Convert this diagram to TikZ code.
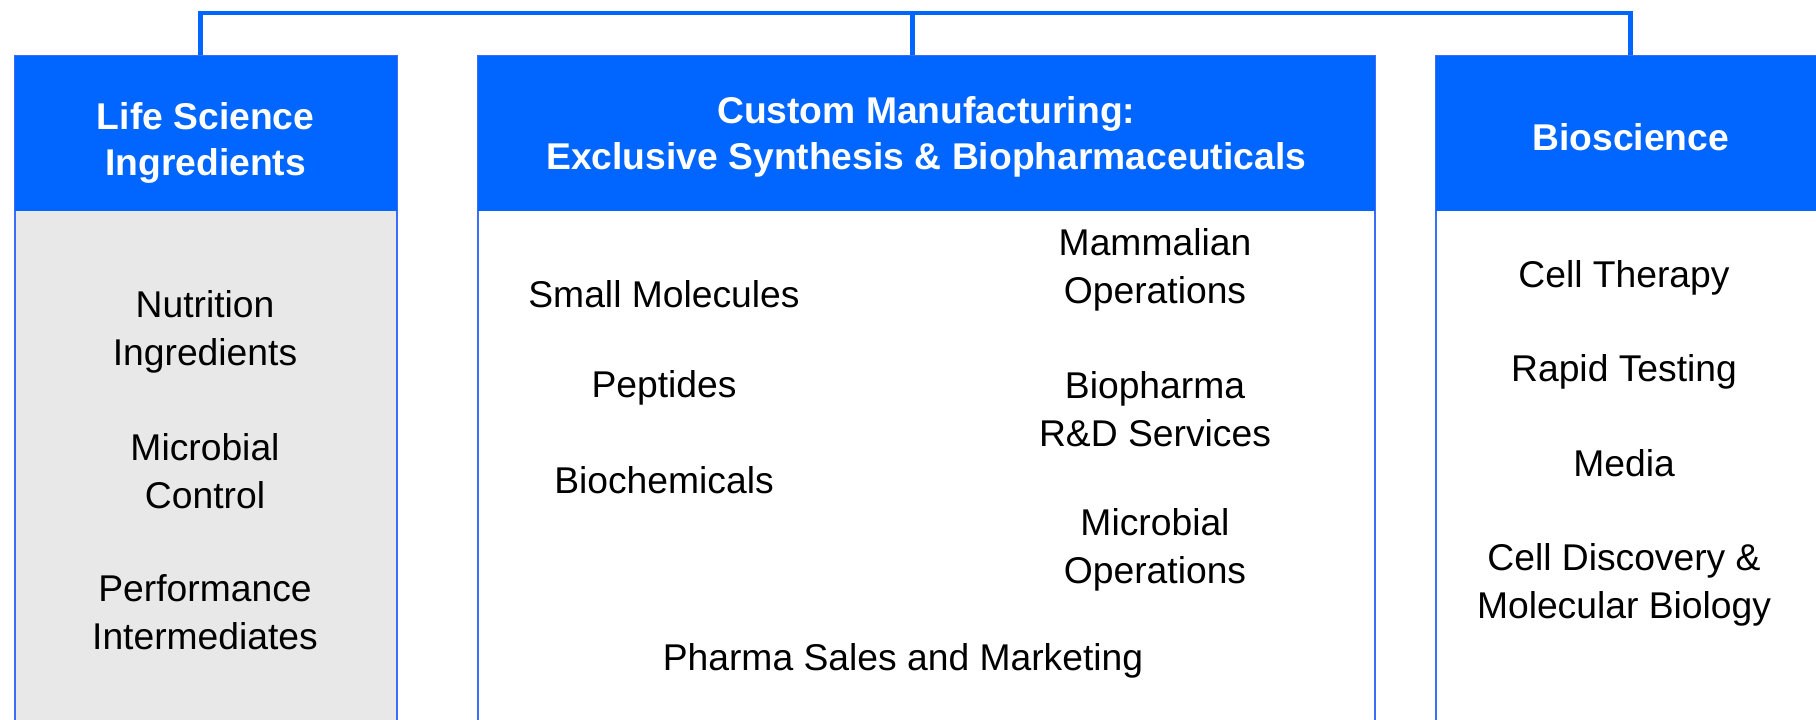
\documentclass[tikz,border=0pt]{standalone}
\usepackage{fontspec}
\setmainfont{Liberation Sans}
\usepackage{xcolor}
\usetikzlibrary{positioning}

\definecolor{segblue}{HTML}{0066FF}
\definecolor{rimblue}{HTML}{3A6DF8}
\definecolor{panelgray}{HTML}{E8E8E8}

\tikzset{
  panel/.style={draw=rimblue, line width=0.7pt, inner sep=0pt, minimum height=7cm, anchor=north west},
  header/.style={fill=segblue, inner sep=0pt, minimum height=1.55cm, anchor=north west},
  title/.style={text=white, align=center, font=\fontsize{10.6}{13}\selectfont\bfseries},
  item/.style={align=center, font=\fontsize{10.6}{13.5}\selectfont},
  bus/.style={draw=segblue, line width=1.4pt},
}

\begin{document}
\begin{tikzpicture}
    \useasboundingbox (0,0) rectangle (18.16,7.2);
    \clip (0,0) rectangle (18.16,7.2);

    % columns (body first, header on top)
    \node[panel, fill=panelgray, minimum width=3.82cm] (lsibox) at (0.14,6.65) {};
    \node[header, minimum width=3.82cm] (lsi) at (lsibox.north west) {};
    \node[title] (lsititle) at ([yshift=-0.1cm]lsi.center) {Life Science\\Ingredients};

    \node[panel, fill=white, minimum width=8.97cm] (cmfbox) at (4.77,6.65) {};
    \node[header, minimum width=8.97cm] (cmf) at (cmfbox.north west) {};
    \node[title] (cmftitle) at ([yshift=-0.04cm]cmf.center) {Custom Manufacturing:\\Exclusive Synthesis \& Biopharmaceuticals};

    \node[panel, fill=white, minimum width=3.9cm] (biobox) at (14.35,6.65) {};
    \node[header, minimum width=3.9cm] (bio) at (biobox.north west) {};
    \node[title] (biotitle) at ([yshift=-0.04cm]bio.center) {Bioscience};

    % bracket over the three columns
    \coordinate (bus) at (0,7.07);
    \draw[bus] ([xshift=-0.05cm]lsi.north) |- (bio.north |- bus) -- (bio.north);
    \draw[bus] ([xshift=-0.135cm]cmf.north) -- ([xshift=-0.135cm]cmf.north |- bus);

    % life science ingredients
    \node[item] (nutr) at (2.05,3.88) {Nutrition\\Ingredients};
    \node[item] (micro) at (2.05,2.49) {Microbial\\Control};
    \node[item] (perf) at (2.05,1.08) {Performance\\Intermediates};

    % custom manufacturing
    \node[item] (small) at (6.64,4.26) {Small Molecules};
    \node[item] (pept) at (6.64,3.32) {Peptides};
    \node[item] (bioch) at (6.64,2.40) {Biochemicals};
    \node[item] (mamm) at (11.55,4.50) {Mammalian\\Operations};
    \node[item] (rnd) at (11.55,3.11) {Biopharma\\R\&D Services};
    \node[item] (mops) at (11.55,1.70) {Microbial\\Operations};
    \node[item] (sales) at (9.03,0.59) {Pharma Sales and Marketing};

    % bioscience
    \node[item] (cell) at (16.24,4.42) {Cell Therapy};
    \node[item] (rapid) at (16.24,3.48) {Rapid Testing};
    \node[item] (media) at (16.24,2.57) {Media};
    \node[item] (disc) at (16.24,1.35) {Cell Discovery \&\\Molecular Biology};
\end{tikzpicture}
\end{document}
